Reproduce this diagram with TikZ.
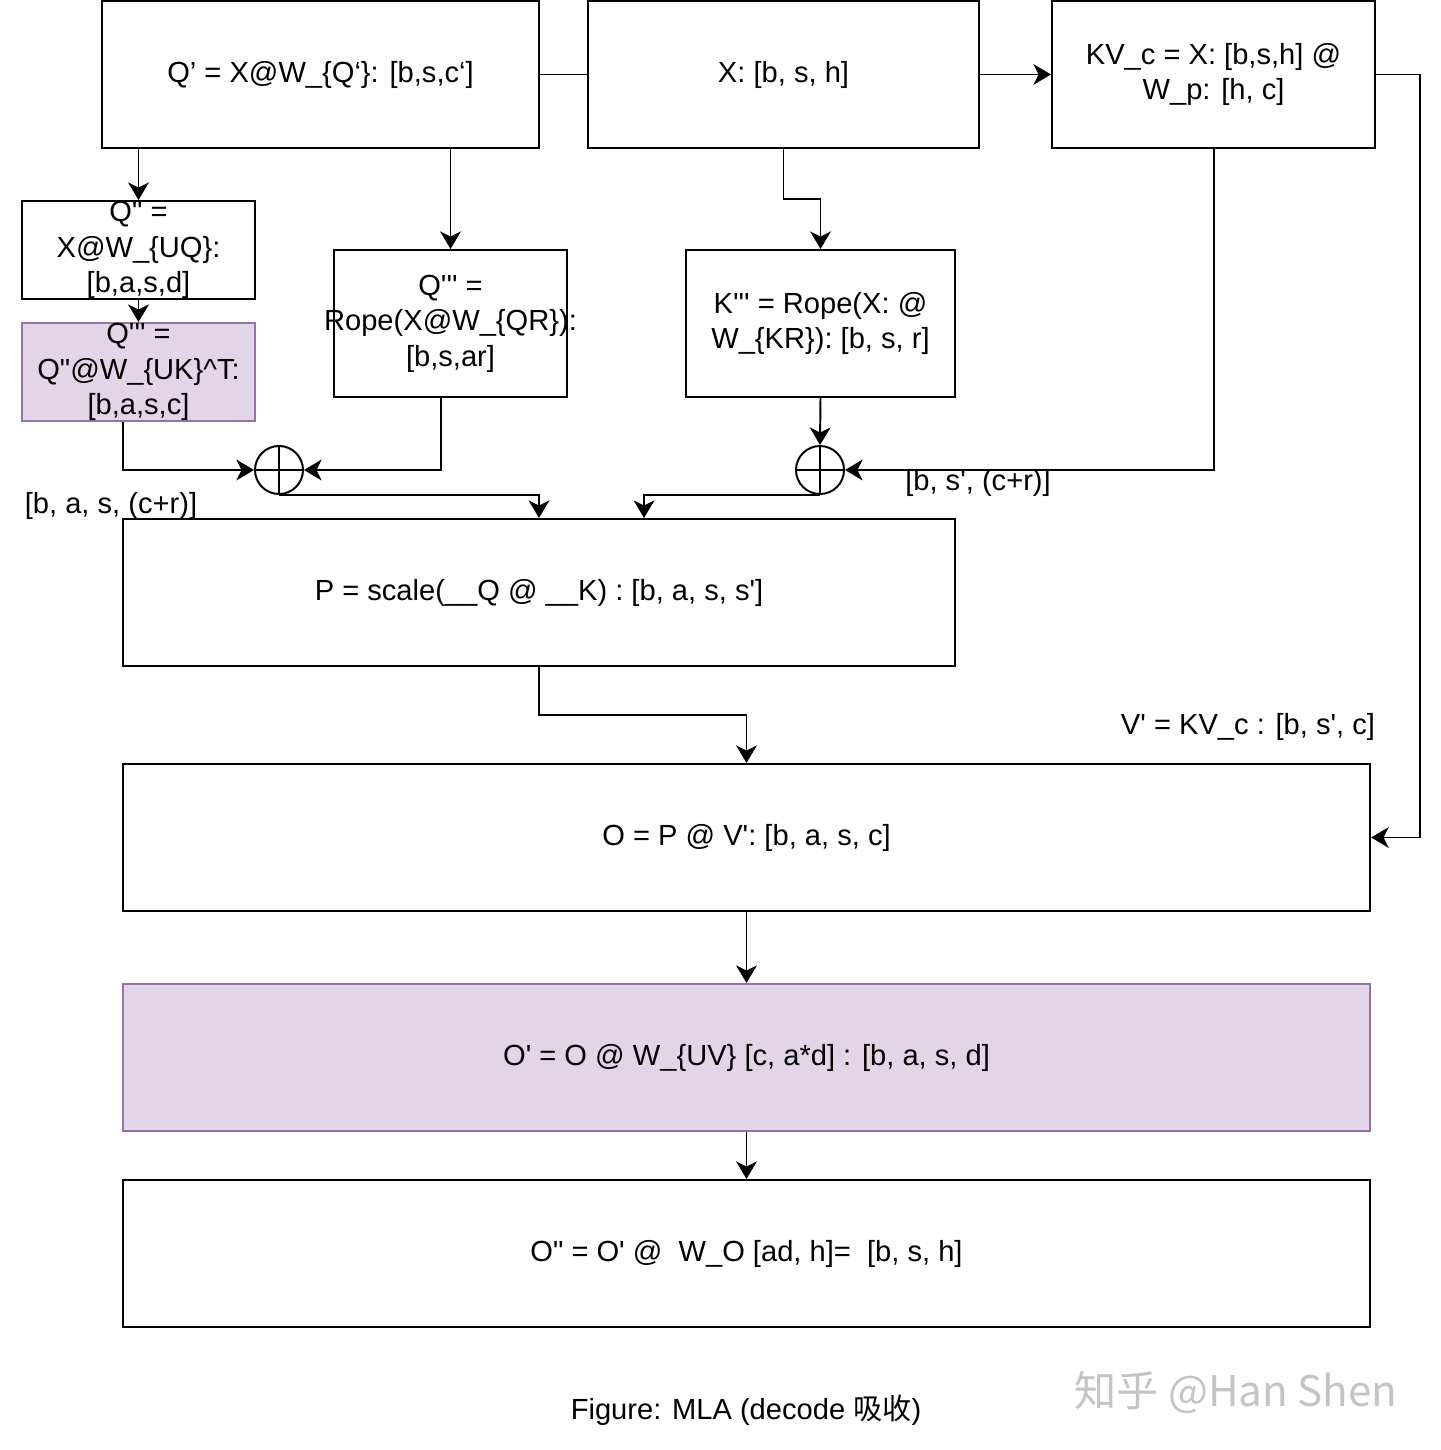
\documentclass[tikz,border=0pt]{standalone}
\usepackage{fontspec}
\setmainfont{Liberation Sans}[Ligatures=TeXOff]
\newfontfamily\cjk{Noto Sans CJK SC}
\usetikzlibrary{arrows.meta,positioning,calc}
\definecolor{Ink}{HTML}{000000}
\definecolor{Lilac}{HTML}{9673A6}
\definecolor{LilacSoft}{HTML}{E1D5E7}
\definecolor{Mark}{HTML}{C4C4C4}
\tikzset{
  txt/.style={font=\fontsize{20.7pt}{25.2pt}\selectfont},
  box/.style={txt,draw=Ink,fill=white,line width=1.4pt,align=center,inner sep=0pt},
  mixbox/.style={box,draw=Lilac,fill=LilacSoft},
  plusnode/.style={circle,draw=Ink,line width=1.4pt,minimum size=1.2cm,inner sep=0pt,
    path picture={\draw[line width=1.4pt] (path picture bounding box.north) -- (path picture bounding box.south)
      (path picture bounding box.west) -- (path picture bounding box.east);}},
  dimlabel/.style={txt,inner sep=0pt},
  flow/.style={-{Stealth[length=4.4mm,width=5.2mm,inset=1.3mm]},draw=Ink,line width=1.4pt},
  plainline/.style={draw=Ink,line width=1.4pt}
}
% a line that may run past the box edges
\newcommand{\overrun}[1]{\makebox[0pt][c]{#1}}
\begin{document}
\begin{tikzpicture}[x=0.025cm,y=-0.025cm]
  \useasboundingbox (0,0) rectangle (1440,1450);
  % top row
  \node[box,minimum width=10.925cm,minimum height=3.675cm] (qp) at (320.5,74.5) {Q’ = X@W\_\{Q‘\}: [b,s,c‘]};
  \node[box,minimum width=9.775cm,minimum height=3.675cm] (xin) at (783.5,74.5) {X: [b, s, h]};
  \node[box,minimum width=8.075cm,minimum height=3.675cm] (kvc) at (1213.5,74.5) {KV\_c = X: [b,s,h] @\\W\_p: [h, c]};
  % query / key branches
  \node[box,minimum width=5.825cm,minimum height=2.45cm] (qpp) at (138.5,250) {Q" =\\X@W\_\{UQ\}:\\{}[b,a,s,d]};
  \node[mixbox,minimum width=5.825cm,minimum height=2.45cm] (qppp) at (138.5,372) {Q''' =\\Q"@W\_\{UK\}\textasciicircum T:\\{}[b,a,s,c]};
  \node[box,minimum width=5.825cm,minimum height=3.675cm] (qr) at (450.5,323.5) {Q''' =\\\overrun{Rope(X@W\_\{QR\}):}\\{}[b,s,ar]};
  \node[box,minimum width=6.725cm,minimum height=3.675cm] (kr) at (820.5,323.5) {K''' = Rope(X: @\\W\_\{KR\}): [b, s, r]};
  \node[plusnode] (plus1) at (279,470) {};
  \node[plusnode] (plus2) at (820,470) {};
  % attention
  \node[box,minimum width=20.8cm,minimum height=3.675cm] (pbox) at (539,592.5) {P = scale(\_\_Q @ \_\_K) : [b, a, s, s']};
  \node[box,minimum width=31.175cm,minimum height=3.675cm] (obox) at (746.5,837.5) {O = P @ V': [b, a, s, c]};
  \node[mixbox,minimum width=31.175cm,minimum height=3.675cm] (opbox) at (746.5,1057.5) {O' = O @ W\_\{UV\} [c, a*d] : [b, a, s, d]};
  \node[box,minimum width=31.175cm,minimum height=3.675cm] (oppbox) at (746.5,1253.5) {O" = O' @ \ W\_O [ad, h]= \ [b, s, h]};
  % labels
  \node[dimlabel] (lblq) at (111,506) {[b, a, s, (c+r)]};
  \node[dimlabel] (lblk) at (978,483) {[b, s', (c+r)]};
  \node[dimlabel] (lblv) at (1248,727) {V' = KV\_c : [b, s', c]};
  \node[dimlabel] (caption) at (746,1410) {Figure: MLA (decode {\cjk 吸收})};
  \node[inner sep=0pt,text=Mark,font=\cjk\fontsize{30pt}{30pt}\selectfont] (mark) at (1236,1392) {知乎 @Han Shen};
  % connectors
  \draw[plainline] (qp.east) -- (xin.west);
  \draw[flow] (xin.east) -- (kvc.west);
  \draw[flow] (qp.south -| qpp.north) -- (qpp.north);
  \draw[flow] (qp.south -| qr.north) -- (qr.north);
  \draw[flow] (xin.south) |- ($(xin.south)!.5!(kr.north)$) -| (kr.north);
  \draw[flow] (qpp.south) -- (qppp.north);
  \draw[flow] ([xshift=-.39cm]qppp.south) |- (plus1.west);
  \draw[flow] ([xshift=-.24cm]qr.south) |- (plus1.east);
  \draw[flow] (plus1.south) -| (pbox.north);
  \draw[flow] (kr.south) -- (plus2.north);
  \draw[flow] (kvc.south) |- (plus2.east);
  \draw[flow] (plus2.south) -| ([xshift=2.625cm]pbox.north);
  \draw[flow] (pbox.south) |- ($(pbox.south)!.5!(obox.north)$) -| (obox.north);
  \draw[flow] (kvc.east) -- ++(44,0) |- (obox.east);
  \draw[flow] (obox.south) -- (opbox.north);
  \draw[flow] (opbox.south) -- (oppbox.north);
\end{tikzpicture}
\end{document}
